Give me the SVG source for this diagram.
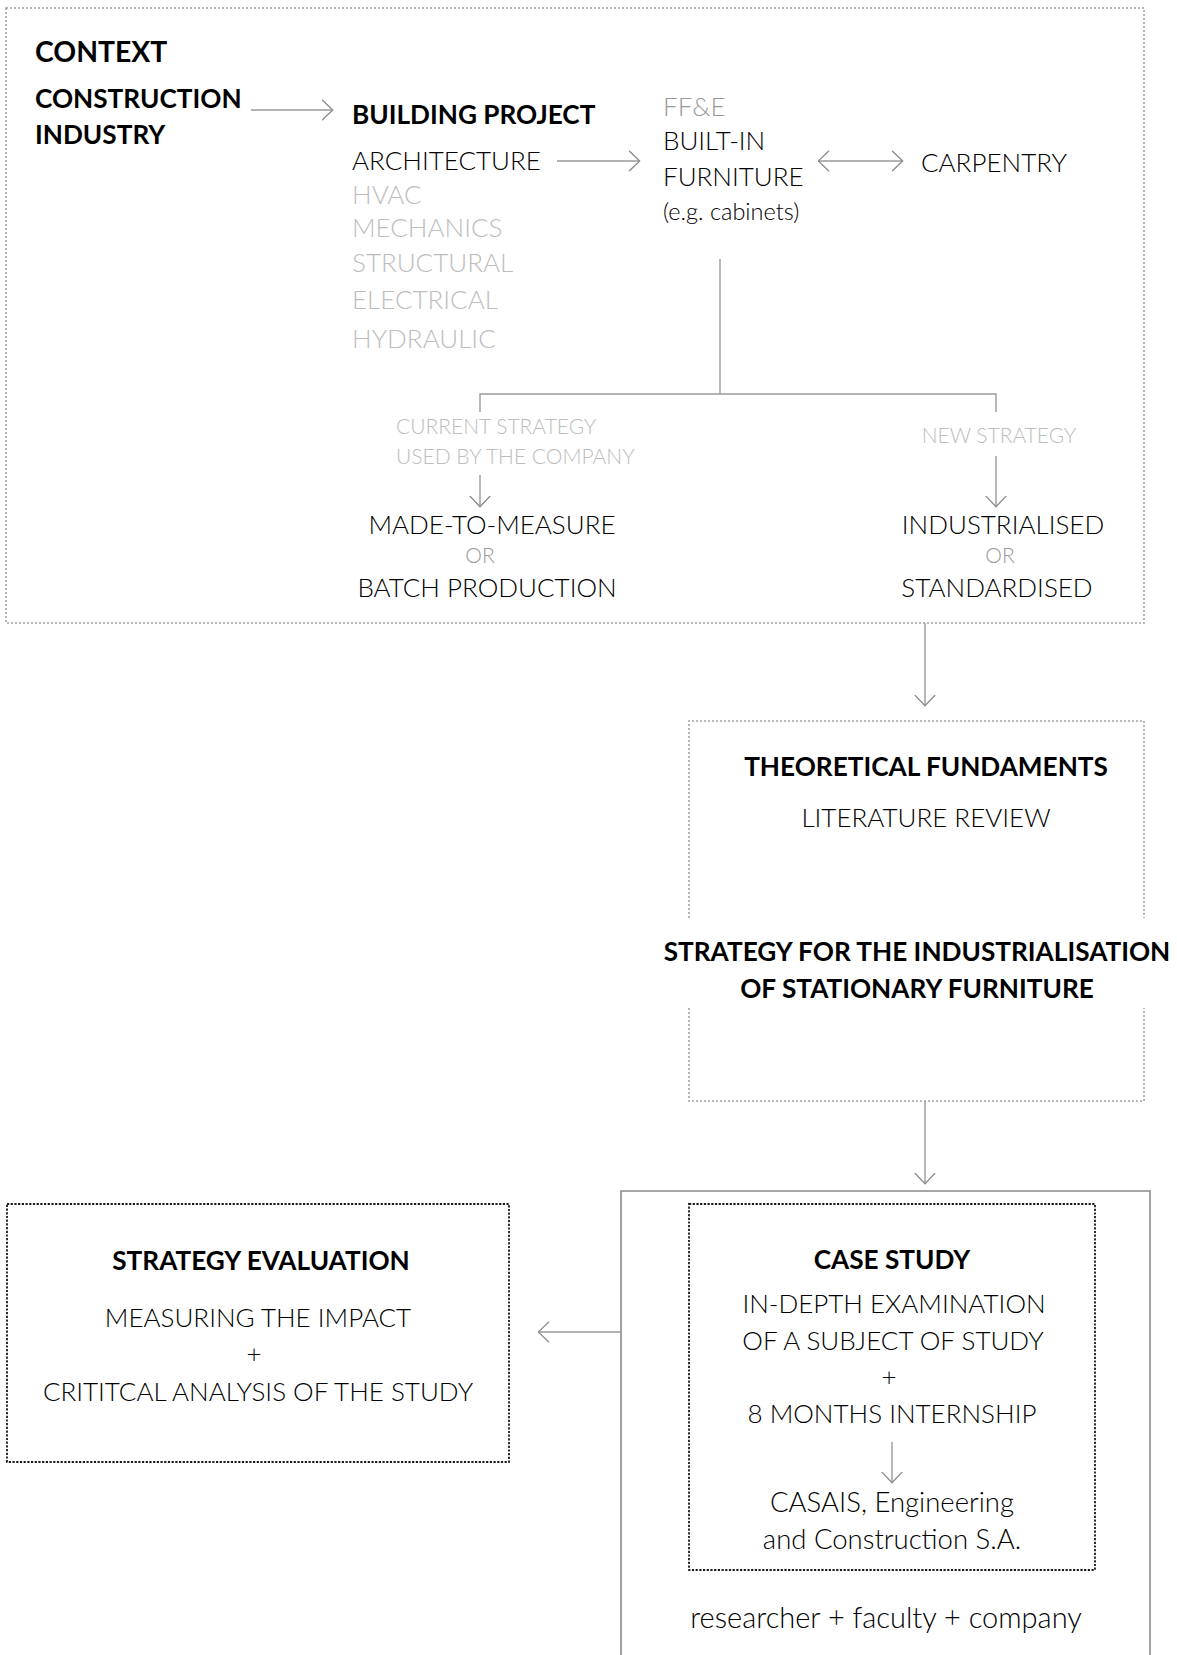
<svg xmlns="http://www.w3.org/2000/svg" width="1177" height="1655" viewBox="0 0 1177 1655">
  <defs>
    <!-- open chevron arrowhead shared by all connectors -->
    <marker id="chev" viewBox="0 0 12 22" refX="11.5" refY="11" markerWidth="12" markerHeight="22" markerUnits="userSpaceOnUse" orient="auto-start-reverse">
      <path d="M0.5,0.8 L11.2,11 L0.5,21.2" fill="none" stroke="#8c8c8c" stroke-width="1.3"/>
    </marker>
    <style>
      .frame{fill:none;stroke:#a3a3a3;stroke-width:1.6;stroke-dasharray:2 2}
      .frame-dark{fill:none;stroke:#1a1a1a;stroke-width:1.8;stroke-dasharray:2.2 1.5}
      .frame-solid{fill:none;stroke:#8a8a8a;stroke-width:1.6}
      .link{fill:none;stroke:#9a9a9a;stroke-width:1.4}
      .arrow{marker-end:url(#chev)}
      .both{marker-start:url(#chev);marker-end:url(#chev)}
      text{font-family:Lato,"Liberation Sans",sans-serif}
      .h{font-weight:700;fill:#000;font-size:26.2px}
      .t{font-weight:300;fill:#000;font-size:26px}
      .r{font-weight:300;fill:#000;font-size:27.5px}
      .s{font-weight:300;font-size:21px}
      .faint{fill:#bdbdbd}
      .mid{fill:#999}
      .c{text-anchor:middle}
    </style>
  </defs>
  <rect width="1177" height="1655" fill="#fff"/>

  <!-- frames -->
  <g id="context-frame">
    <rect class="frame" x="6" y="8" width="1138" height="615"/>
  </g>
  <g id="theory-frame">
    <path class="frame" d="M689,918 V721 H1144 V918"/>
    <path class="frame" d="M689,1008 V1101 H1144 V1008"/>
  </g>
  <g id="case-outer">
    <path class="frame-solid" d="M621,1660 V1191 H1150 V1660"/>
  </g>

  <!-- context block -->
  <g id="context">
    <text class="h" x="35" y="62" style="font-size:28.3px">CONTEXT</text>
    <text class="h" x="35" y="108">CONSTRUCTION</text>
    <text class="h" x="35" y="144">INDUSTRY</text>
  </g>
  <g id="building-project">
    <text class="h" x="352" y="124">BUILDING PROJECT</text>
    <text class="t" x="352" y="170">ARCHITECTURE</text>
    <text class="t faint" x="352" y="204">HVAC</text>
    <text class="t faint" x="352" y="237">MECHANICS</text>
    <text class="t faint" x="352" y="272">STRUCTURAL</text>
    <text class="t faint" x="352" y="309">ELECTRICAL</text>
    <text class="t faint" x="352" y="348">HYDRAULIC</text>
  </g>
  <g id="furniture">
    <text class="t mid" x="663" y="116">FF&amp;E</text>
    <text class="t" x="663" y="150">BUILT-IN</text>
    <text class="t" x="663" y="186">FURNITURE</text>
    <text class="t" x="663" y="220" style="font-size:23.5px">(e.g. cabinets)</text>
  </g>
  <g id="carpentry">
    <text class="t" x="921" y="172">CARPENTRY</text>
  </g>
  <g id="current-strategy">
    <text class="s faint" x="396" y="434">CURRENT STRATEGY</text>
    <text class="s faint" x="396" y="464">USED BY THE COMPANY</text>
    <text class="t c" x="492" y="534">MADE-TO-MEASURE</text>
    <text class="s mid c" x="480" y="563">OR</text>
    <text class="t c" x="487" y="597">BATCH PRODUCTION</text>
  </g>
  <g id="new-strategy">
    <text class="s faint c" x="999" y="443">NEW STRATEGY</text>
    <text class="t c" x="1003" y="534">INDUSTRIALISED</text>
    <text class="s mid c" x="1000" y="563">OR</text>
    <text class="t c" x="997" y="597">STANDARDISED</text>
  </g>

  <!-- theoretical fundaments -->
  <g id="theory">
    <text class="h c" x="926" y="776">THEORETICAL FUNDAMENTS</text>
    <text class="t c" x="926" y="827">LITERATURE REVIEW</text>
  </g>
  <g id="strategy">
    <text class="h c" x="917" y="961">STRATEGY FOR THE INDUSTRIALISATION</text>
    <text class="h c" x="917" y="998">OF STATIONARY FURNITURE</text>
  </g>

  <!-- evaluation -->
  <g id="evaluation">
    <rect class="frame-dark" x="7" y="1204" width="502" height="258"/>
    <text class="h c" x="261" y="1270">STRATEGY EVALUATION</text>
    <text class="t c" x="258" y="1327">MEASURING THE IMPACT</text>
    <text class="t c" x="254" y="1363">+</text>
    <text class="t c" x="258" y="1401">CRITITCAL ANALYSIS OF THE STUDY</text>
  </g>

  <!-- case study -->
  <g id="case-study">
    <rect class="frame-dark" x="689" y="1204" width="406" height="366"/>
    <text class="h c" x="892" y="1269">CASE STUDY</text>
    <text class="t c" x="894" y="1313">IN-DEPTH EXAMINATION</text>
    <text class="t c" x="893" y="1350">OF A SUBJECT OF STUDY</text>
    <text class="t c" x="889" y="1386">+</text>
    <text class="t c" x="892" y="1423">8 MONTHS INTERNSHIP</text>
    <text class="r c" x="892" y="1512">CASAIS, Engineering</text>
    <text class="r c" x="892" y="1549">and Construction S.A.</text>
  </g>
  <g id="partners">
    <text class="r c" x="886" y="1628" style="font-size:29px">researcher + faculty + company</text>
  </g>

  <!-- connectors -->
  <g id="connectors">
    <line class="link arrow" x1="251" y1="110" x2="333" y2="110"/>
    <line class="link arrow" x1="557" y1="161" x2="640" y2="161"/>
    <line class="link both" x1="818" y1="161" x2="903" y2="161"/>
    <path class="link" d="M720,259 V394 M480,412 V394 H996 V412"/>
    <line class="link arrow" x1="480" y1="475" x2="480" y2="507"/>
    <line class="link arrow" x1="996" y1="456" x2="996" y2="507"/>
    <line class="link arrow" x1="925" y1="623" x2="925" y2="706"/>
    <line class="link arrow" x1="925" y1="1101" x2="925" y2="1184"/>
    <line class="link arrow" x1="621" y1="1332" x2="538" y2="1332"/>
    <line class="link arrow" x1="892" y1="1442" x2="892" y2="1483"/>
  </g>
</svg>
